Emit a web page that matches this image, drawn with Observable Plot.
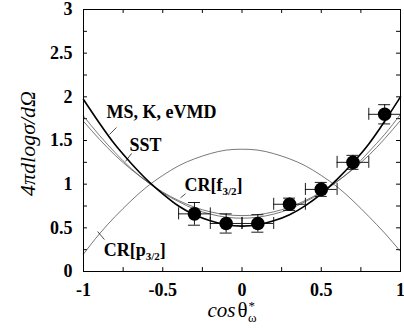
<!DOCTYPE html>
<html><head><meta charset="utf-8">
<script src="https://cdn.jsdelivr.net/npm/d3@7"></script>
<script src="https://cdn.jsdelivr.net/npm/@observablehq/plot@0.6"></script>
<style>body{margin:0;background:#fff} svg{display:block} svg text{font-family:"Liberation Serif","Times New Roman",serif}</style>
</head><body><div id="chart"></div>
<script>
// cos theta grid of the model curves
const cosGrid = [-1,-0.9,-0.8,-0.7,-0.6,-0.5,-0.4,-0.3,-0.2,-0.1,0,0.1,0.2,0.3,0.4,0.5,0.6,0.7,0.8,0.9,1];
// model curves
const msKeVMD = [1.97,1.70,1.45,1.24,1.05,0.89,0.75,0.65,0.58,0.535,0.52,0.535,0.58,0.65,0.755,0.89,1.055,1.245,1.46,1.72,2.00];
const sst     = [1.78,1.56,1.36,1.18,1.03,0.90,0.80,0.715,0.657,0.622,0.61,0.622,0.657,0.715,0.80,0.90,1.03,1.18,1.37,1.57,1.80];
const crF     = [1.72,1.515,1.33,1.17,1.03,0.91,0.813,0.737,0.683,0.651,0.64,0.651,0.683,0.737,0.813,0.91,1.03,1.17,1.33,1.52,1.73];
const crP     = [0.20,0.43,0.63,0.81,0.97,1.10,1.21,1.29,1.35,1.39,1.40,1.39,1.35,1.29,1.21,1.10,0.97,0.81,0.63,0.44,0.23];
// measured points
const dataCos  = [-0.3,-0.1,0.1,0.3,0.5,0.7,0.9];
const dataY    = [0.66,0.55,0.55,0.77,0.94,1.25,1.80];
const dataYErr = [0.13,0.11,0.10,0.07,0.08,0.08,0.11];
const dataXErr = [0.1,0.1,0.1,0.1,0.1,0.1,0.1];
// ticks
const xTickLabels = [-1,-0.5,0,0.5,1];
const yTickLabels = [0,0.5,1,1.5,2,2.5,3];
const xTicks = [-1,-0.75,-0.5,-0.25,0,0.25,0.5,0.75,1];
const yTicks = [0,0.25,0.5,0.75,1,1.25,1.5,1.75,2,2.25,2.5,2.75,3];
// annotations
const labelTexts = ["MS, K, eVMD","SST","CR[f_{3/2}]","CR[p_{3/2}]"];
const labelX = [-0.855,-0.71,-0.363,-0.872];
const labelY = [1.826,1.443,0.99,0.249];
const leaderX1 = [-0.792,-0.697,-0.356,-0.911];
const leaderY1 = [1.649,1.351,0.89,0.458];
const leaderX2 = [-0.836,-0.735,-0.388,-0.868];
const leaderY2 = [1.569,1.26,0.844,0.366];
const yTitle = "4πdlogσ/dΩ";
const xTitle = "cosθ*ω";

const serif = '"Liberation Serif","Times New Roman",serif';
const mk = arr => cosGrid.map((c,i)=>({x:c, y:arr[i]}));
const pts = dataCos.map((c,i)=>({x:c, y:dataY[i], ye:dataYErr[i], xe:dataXErr[i]}));
const labels = labelTexts.map((t,i)=>({t, x:labelX[i], y:labelY[i]}));
const leaders = leaderX1.map((v,i)=>({x1:v,y1:leaderY1[i],x2:leaderX2[i],y2:leaderY2[i]}));
const fmt = d => String(d);
const tickLen = 0.045;

const chart = Plot.plot({
  width: 404, height: 330,
  marginLeft: 83, marginRight: 4, marginTop: 9, marginBottom: 59,
  style: {fontFamily: serif, background: "#fff", color: "#000"},
  x: {domain: [-1, 1]},
  y: {domain: [0, 3]},
  marks: [
    Plot.axisX(xTickLabels, {tickSize: 0, tickPadding: 12, tickFormat: fmt, fontSize: 18, fontWeight: "bold", fontFamily: serif, label: null}),
    Plot.axisY(yTickLabels, {tickSize: 0, tickPadding: 11, tickFormat: fmt, fontSize: 18, fontWeight: "bold", fontFamily: serif, label: null}),
    Plot.ruleX(xTicks, {x: d=>d, y1: 0, y2: tickLen, stroke: "#000"}),
    Plot.ruleX(xTicks, {x: d=>d, y1: 3, y2: 3 - tickLen, stroke: "#000"}),
    Plot.ruleY(yTicks, {y: d=>d, x1: -1, x2: -1 + tickLen*0.55, stroke: "#000"}),
    Plot.ruleY(yTicks, {y: d=>d, x1: 1, x2: 1 - tickLen*0.55, stroke: "#000"}),
    Plot.line(mk(crP), {x:"x", y:"y", stroke:"#555", strokeWidth:0.8, curve:"natural"}),
    Plot.line(mk(sst), {x:"x", y:"y", stroke:"#555", strokeWidth:0.8, curve:"natural"}),
    Plot.line(mk(crF), {x:"x", y:"y", stroke:"#555", strokeWidth:0.8, curve:"natural"}),
    Plot.line(mk(msKeVMD), {x:"x", y:"y", stroke:"#000", strokeWidth:1.6, curve:"natural"}),
    Plot.ruleY(pts, {y:"y", x1: d=>d.x-d.xe, x2: d=>d.x+d.xe, stroke:"#000", strokeWidth:0.9}),
    Plot.ruleX(pts, {x: d=>d.x-d.xe, y1:"y", y2:"y", insetTop:-6, insetBottom:-6, stroke:"#000", strokeWidth:0.9}),
    Plot.ruleX(pts, {x: d=>d.x+d.xe, y1:"y", y2:"y", insetTop:-6, insetBottom:-6, stroke:"#000", strokeWidth:0.9}),
    Plot.ruleX(pts, {x:"x", y1: d=>d.y-d.ye, y2: d=>d.y+d.ye, stroke:"#000", strokeWidth:0.9}),
    Plot.ruleY(pts, {y: d=>d.y-d.ye, x1:"x", x2:"x", insetLeft:-6, insetRight:-6, stroke:"#000", strokeWidth:0.9}),
    Plot.ruleY(pts, {y: d=>d.y+d.ye, x1:"x", x2:"x", insetLeft:-6, insetRight:-6, stroke:"#000", strokeWidth:0.9}),
    Plot.dot(pts, {x:"x", y:"y", r:6.8, fill:"#000"}),
    Plot.link(leaders, {x1:"x1", y1:"y1", x2:"x2", y2:"y2", stroke:"#000", strokeWidth:0.7}),
    Plot.text(labels, {x:"x", y:"y", text:"t", textAnchor:"start", lineAnchor:"middle", fontSize:18, fontWeight:"bold", fontFamily: serif, fill:"#000"}),
    Plot.text([yTitle], {frameAnchor:"left", dx:-56, dy:3, rotate:-90, textAnchor:"middle", lineAnchor:"middle", fontSize:22, fontStyle:"italic", fontFamily: serif, fill:"#000"}),
    Plot.text([xTitle], {frameAnchor:"bottom", dx:-10, dy:39, textAnchor:"middle", lineAnchor:"middle", fontSize:21, fontFamily: serif, fill:"#000"}),
    Plot.frame({stroke:"#000", strokeWidth:1})
  ]
});
document.getElementById("chart").appendChild(chart);

// rich text: subscripts and the x title
const NS = "http://www.w3.org/2000/svg";
chart.querySelectorAll("text").forEach(el => {
  const s = el.textContent;
  const m = s.match(/^(.*)_\{(.*)\}(.*)$/);
  if (m) {
    el.textContent = "";
    const a = document.createElementNS(NS,"tspan"); a.textContent = m[1];
    const b = document.createElementNS(NS,"tspan"); b.textContent = m[2];
    b.setAttribute("font-size", "11"); b.setAttribute("dy", "4");
    const c = document.createElementNS(NS,"tspan"); c.textContent = m[3];
    c.setAttribute("dy", "-4");
    el.append(a, b, c);
  } else if (s === xTitle) {
    el.textContent = "";
    const parts = [["cos",{"font-style":"italic"}],["θ",{"dx":"2"}],["*",{"font-size":"13","dy":"-7","dx":"1"}],["ω",{"font-size":"13","dx":"-7","dy":"12"}]];
    parts.forEach(([t,attrs]) => {
      const sp = document.createElementNS(NS,"tspan");
      sp.textContent = t;
      for (const k in attrs) sp.setAttribute(k, attrs[k]);
      el.append(sp);
    });
  }
});
</script>
</body></html>
